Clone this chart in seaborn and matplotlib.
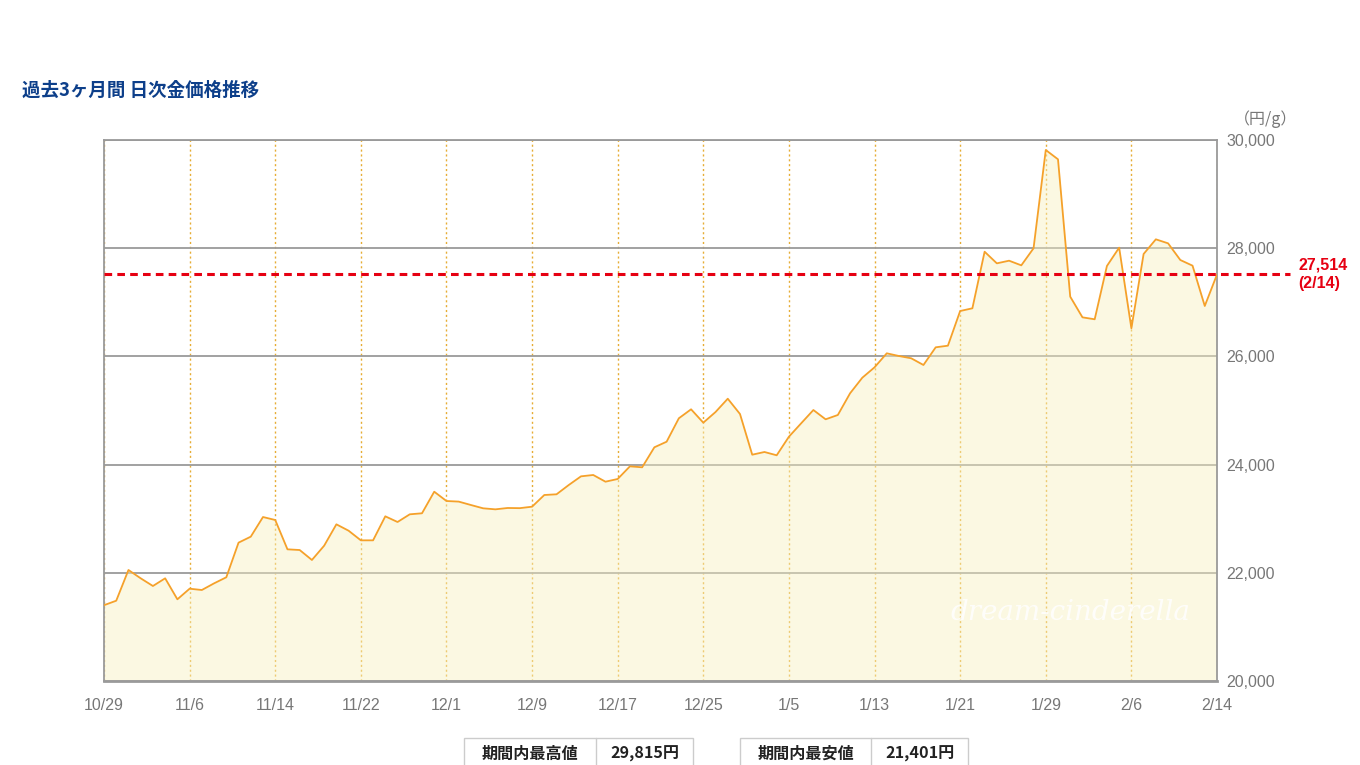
import numpy as np
import pandas as pd
import matplotlib.pyplot as plt
from matplotlib.patches import Rectangle
import seaborn as sns

# data
title = '過去3ヶ月間 日次金価格推移'
unit_label = '（円/g）'
tick_dates = ['10/29', '11/6', '11/14', '11/22', '12/1', '12/9', '12/17',
              '12/25', '1/5', '1/13', '1/21', '1/29', '2/6', '2/14']
prices = [21401, 21484, 22052, 21898, 21756, 21898, 21510, 21706, 21682, 21805,
          21917, 22557, 22668, 23031, 22976, 22434, 22421, 22237, 22501, 22896,
          22778, 22600, 22600, 23044, 22939, 23081, 23100, 23499, 23327, 23316,
          23253, 23192, 23173, 23198, 23195, 23222, 23438, 23451, 23623, 23783,
          23808, 23684, 23734, 23968, 23950, 24320, 24423, 24856, 25022, 24775,
          24972, 25218, 24935, 24183, 24233, 24172, 24516, 24763, 25009, 24837,
          24917, 25318, 25606, 25798, 26057, 26007, 25965, 25841, 26168, 26198,
          26839, 26889, 27935, 27720, 27769, 27683, 27998, 29815, 29643, 27104,
          26722, 26686, 27671, 28010, 26519, 27893, 28164, 28090, 27782, 27677,
          26932, 27514]
latest_price = 27514
latest_date = '2/14'
stats_labels = ['期間内最高値', '期間内最安値']
stats_values = [29815, 21401]

df = pd.DataFrame({'idx': np.arange(len(prices)), 'price': prices})

sns.set_style('white')
plt.rcParams['font.family'] = ['Noto Sans CJK JP', 'DejaVu Sans']

W, H = 1360, 765
fig = plt.figure(figsize=(W / 100, H / 100), dpi=100)
ax = fig.add_axes([104 / W, 1 - 681 / H, 1113 / W, 541 / H])

grey = '#9a9a9a'
gold = '#e6ad35'
red = '#e60012'
latin = ['Liberation Sans', 'DejaVu Sans']

# fill under the line (drawn over the grid, semi transparent)
ax.fill_between(df['idx'], df['price'], 20000, color='#f7f0c0', alpha=0.45,
                lw=0, zorder=2)
sns.lineplot(data=df, x='idx', y='price', color='#f5a12a', lw=1.3, ax=ax,
             zorder=3)

ax.set_xlim(0, len(prices) - 1)
ax.set_ylim(20000, 30000)
ax.set_xlabel('')
ax.set_ylabel('')

# grid
ax.set_axisbelow(True)
ax.yaxis.grid(True, color=grey, lw=1.3)
ax.xaxis.grid(True, color=gold, lw=1.0, ls=(0, (1.5, 2)))

for s in ax.spines.values():
    s.set_visible(True)
    s.set_color(grey)
    s.set_linewidth(1.3)
ax.spines['bottom'].set_linewidth(2)

# ticks
ax.set_xticks(np.arange(0, len(prices), 7))
ax.set_xticklabels(tick_dates, family=latin)
ax.tick_params(axis='x', length=3, color=gold, pad=9, labelsize=11.5,
               labelcolor='#777777')
ax.yaxis.tick_right()
yt = np.arange(20000, 30001, 2000)
ax.set_yticks(yt)
ax.set_yticklabels([f'{v:,}' for v in yt], family=latin)
ax.tick_params(axis='y', length=0, pad=7, labelsize=11.5, labelcolor='#777777')

# latest price marker line
ax.plot([0, 1.066], [latest_price, latest_price], transform=ax.get_yaxis_transform(),
        color=red, lw=2.2, ls=(0, (2.5, 1.7)), clip_on=False, zorder=4)
ax.text(1.073, latest_price, f'{latest_price:,}\n({latest_date})',
        transform=ax.get_yaxis_transform(), ha='left', va='center',
        color=red, fontsize=11.5, fontweight='bold', linespacing=1.25,
        family=latin)

# titles
fig.text(22 / W, 1 - 90 / H, title, ha='left', va='center', fontsize=13.3,
         fontweight='bold', color='#0d3f8a')
fig.text(1266 / W, 1 - 119 / H, unit_label, ha='center', va='center',
         fontsize=11.5, color='#777777')

# watermark
fig.text(1070 / W, 1 - 612 / H, 'dream-cinderella', ha='center', va='center',
         fontsize=20, color='white', alpha=0.85, family='DejaVu Serif',
         style='italic')

# summary boxes at the bottom
boxes = [(464, 596, 693), (740, 871, 968)]
top = 738
for (x0, xm, x1), lab, val in zip(boxes, stats_labels, stats_values):
    fig.add_artist(Rectangle((x0 / W, 1 - 790 / H), (x1 - x0) / W, (790 - top) / H,
                             transform=fig.transFigure, fill=False,
                             ec='#cccccc', lw=1, clip_on=False))
    fig.add_artist(plt.Line2D([xm / W, xm / W], [1 - 790 / H, 1 - top / H],
                              transform=fig.transFigure, color='#cccccc', lw=1))
    fig.text((x0 + xm) / 2 / W, 1 - 754 / H, lab, ha='center', va='center',
             fontsize=11.6, fontweight='bold', color='#222222')
    fig.text((xm + x1) / 2 / W, 1 - 754 / H, f'{val:,}円', ha='center',
             va='center', fontsize=11.6, fontweight='bold', color='#222222')

fig.savefig('out.png', dpi=100)
